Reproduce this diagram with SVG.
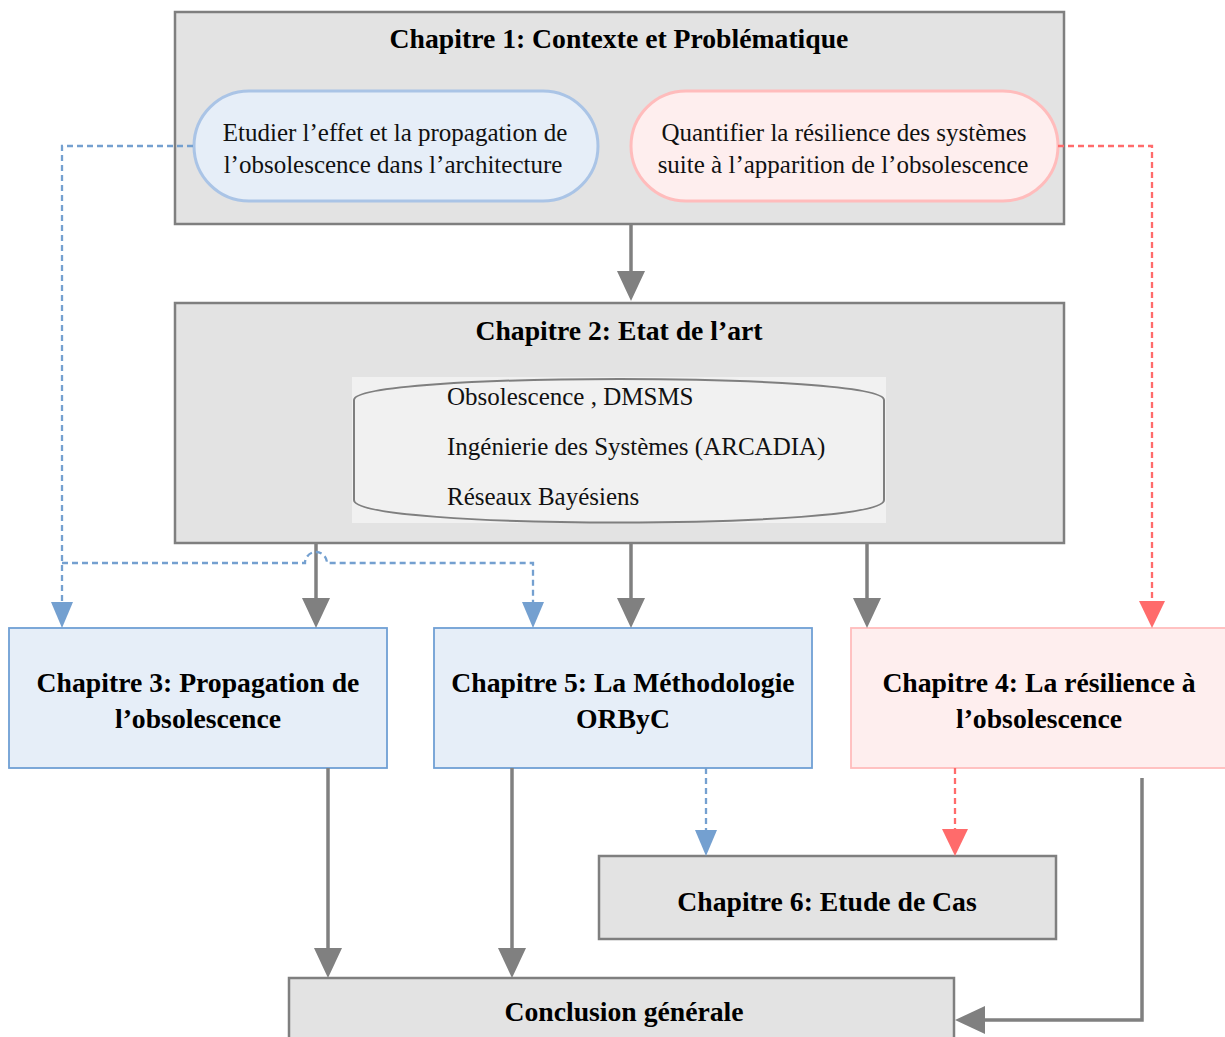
<svg xmlns="http://www.w3.org/2000/svg" width="1225" height="1037" viewBox="0 0 1225 1037">
  <style>
    .gbox { fill: #e3e3e3; stroke: #7f7f7f; stroke-width: 2.5; }
    .bbox { fill: #e6eef8; stroke: #6f9fd4; stroke-width: 1.8; }
    .rbox { fill: #feeeee; stroke: #ffbcbc; stroke-width: 1.8; }
    .title { font-family: "Liberation Serif", "Times New Roman", serif; font-weight: bold; font-size: 27.7px; fill: #000; text-anchor: middle; }
    .body { font-family: "Liberation Serif", "Times New Roman", serif; font-size: 25px; fill: #111; }
    .mid { text-anchor: middle; }
    .solid { fill: none; stroke: #808080; stroke-width: 3.5; }
    .bdash { fill: none; stroke: #74a0d0; stroke-width: 2.3; stroke-dasharray: 6 4; }
    .rdash { fill: none; stroke: #ff6b6b; stroke-width: 2.3; stroke-dasharray: 6 4; }
  </style>
  <defs>
    <marker id="headGray" markerUnits="userSpaceOnUse" viewBox="0 0 30 28" markerWidth="30" markerHeight="28" refX="25" refY="14" orient="auto">
      <path d="M0,0 L30,14 L0,28 Z" fill="#808080"/>
    </marker>
    <marker id="headBlue" markerUnits="userSpaceOnUse" viewBox="0 0 26 22" markerWidth="26" markerHeight="22" refX="22" refY="11" orient="auto">
      <path d="M0,0 L26,11 L0,22 Z" fill="#74a0d0"/>
    </marker>
    <marker id="headRed" markerUnits="userSpaceOnUse" viewBox="0 0 27 26" markerWidth="27" markerHeight="26" refX="23" refY="13" orient="auto">
      <path d="M0,0 L27,13 L0,26 Z" fill="#ff6b6b"/>
    </marker>
  </defs>

  <rect width="1225" height="1037" fill="#ffffff"/>

  <!-- Chapter 1 with its two goals -->
  <g id="chap1">
    <rect class="gbox" x="175" y="12" width="889" height="212"/>
    <text class="title" x="619" y="48">Chapitre 1: Contexte et Problématique</text>
  </g>
  <g id="goal-propagation">
    <rect x="194" y="91" width="404" height="110" rx="55" fill="#e6eef8" stroke="#aac4e6" stroke-width="3"/>
    <text class="body mid" x="395" y="141">Etudier l’effet et la propagation de</text>
    <text class="body mid" x="393" y="173">l’obsolescence dans l’architecture</text>
  </g>
  <g id="goal-resilience">
    <rect x="631" y="91" width="427" height="110" rx="55" fill="#feeeee" stroke="#ffbcbc" stroke-width="3"/>
    <text class="body mid" x="844" y="141">Quantifier la résilience des systèmes</text>
    <text class="body mid" x="843" y="173">suite à l’apparition de l’obsolescence</text>
  </g>

  <!-- Chapter 2 with its topics -->
  <g id="chap2">
    <rect class="gbox" x="175" y="303" width="889" height="240"/>
    <text class="title" x="619" y="340">Chapitre 2: Etat de l’art</text>
    <rect x="352" y="377" width="534" height="146" fill="#f1f1f1"/>
    <path d="M354,400 C354,372 884,372 884,400 L884,500 C884,530 354,530 354,500 Z" fill="#f1f1f1" stroke="#7f7f7f" stroke-width="2"/>
    <text class="body" x="447" y="405">Obsolescence , DMSMS</text>
    <text class="body" x="447" y="455">Ingénierie des Systèmes (ARCADIA)</text>
    <text class="body" x="447" y="505">Réseaux Bayésiens</text>
  </g>

  <!-- Chapters 3, 5 and 4 -->
  <g id="chap3">
    <rect class="bbox" x="9" y="628" width="378" height="140"/>
    <text class="title" x="198" y="692">Chapitre 3: Propagation de</text>
    <text class="title" x="198" y="728">l’obsolescence</text>
  </g>
  <g id="chap5">
    <rect class="bbox" x="434" y="628" width="378" height="140"/>
    <text class="title" x="623" y="692">Chapitre 5: La Méthodologie</text>
    <text class="title" x="623" y="728">ORByC</text>
  </g>
  <g id="chap4">
    <rect class="rbox" x="851" y="628" width="380" height="140"/>
    <text class="title" x="1039" y="692">Chapitre 4: La résilience à</text>
    <text class="title" x="1039" y="728">l’obsolescence</text>
  </g>

  <!-- Chapter 6 and conclusion -->
  <g id="chap6">
    <rect class="gbox" x="599" y="856" width="457" height="83"/>
    <text class="title" x="827" y="911">Chapitre 6: Etude de Cas</text>
  </g>
  <g id="conclusion">
    <rect class="gbox" x="289" y="978" width="665" height="70"/>
    <text class="title" x="624" y="1021">Conclusion générale</text>
  </g>

  <!-- Connectors -->
  <g id="connectors">
    <path class="solid" d="M631,224 L631,296" marker-end="url(#headGray)"/>
    <path class="solid" d="M316,543 L316,623" marker-end="url(#headGray)"/>
    <path class="solid" d="M631,543 L631,623" marker-end="url(#headGray)"/>
    <path class="solid" d="M867,543 L867,623" marker-end="url(#headGray)"/>
    <path class="solid" d="M328,768 L328,973" marker-end="url(#headGray)"/>
    <path class="solid" d="M512,768 L512,973" marker-end="url(#headGray)"/>
    <path class="solid" d="M1142,778 L1142,1020 L960,1020" marker-end="url(#headGray)"/>

    <path class="bdash" d="M193,146 L62,146 L62,624" marker-end="url(#headBlue)"/>
    <path class="bdash" d="M62,563 L305,563 A11,11 0 0 1 327,563 L533,563 L533,624" marker-end="url(#headBlue)"/>
    <path class="bdash" d="M706,768 L706,852" marker-end="url(#headBlue)"/>

    <path class="rdash" d="M1058,146 L1152,146 L1152,624" marker-end="url(#headRed)"/>
    <path class="rdash" d="M955,768 L955,852" marker-end="url(#headRed)"/>
  </g>
</svg>
